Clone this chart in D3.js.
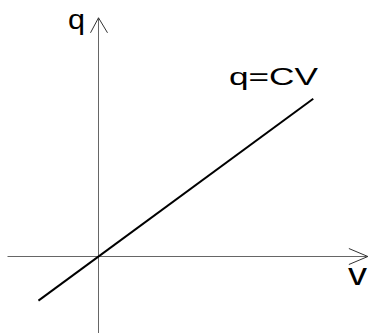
<!DOCTYPE html>
<html>
<head>
<meta charset="utf-8">
<script src="https://cdn.jsdelivr.net/npm/d3@7"></script>
<style>
  body { margin: 0; background: #fff; }
  text { font-family: "Liberation Sans", Arial, sans-serif; fill: #000; }
</style>
</head>
<body>
<div id="chart"></div>
<script>
// axis extents (data units)
var vAxis = [-1, 2.96]
var qAxis = [-1, 3.1]
// the line q = C v
var C = 0.868
var vLine = [-0.66, 2.36]
var labels = ["q", "q=CV", "v"]

var width = 371, height = 333

var svg = d3.select("#chart").append("svg")
  .attr("width", width)
  .attr("height", height)

var x = d3.scaleLinear().domain([-1, 3]).range([7.5, 371.5])
var y = d3.scaleLinear().domain([-1, 3]).range([333.5, 25.5])

// axes
svg.append("line")
  .attr("x1", x(vAxis[0])).attr("x2", x(vAxis[1]))
  .attr("y1", y(0)).attr("y2", y(0))
  .attr("stroke", "#666").attr("stroke-width", 1)

svg.append("line")
  .attr("x1", x(0)).attr("x2", x(0))
  .attr("y1", y(qAxis[0])).attr("y2", y(qAxis[1]))
  .attr("stroke", "#666").attr("stroke-width", 1)

// open arrow heads
var tipX = [x(vAxis[1]), y(0)]
svg.append("path")
  .attr("d", "M" + (tipX[0] - 19) + "," + (tipX[1] - 8) + "L" + tipX[0] + "," + tipX[1] + "L" + (tipX[0] - 19) + "," + (tipX[1] + 8))
  .attr("fill", "none").attr("stroke", "#333").attr("stroke-width", 1)

var tipY = [x(0), y(qAxis[1])]
svg.append("path")
  .attr("d", "M" + (tipY[0] - 8) + "," + (tipY[1] + 15) + "L" + tipY[0] + "," + tipY[1] + "L" + (tipY[0] + 9) + "," + (tipY[1] + 15))
  .attr("fill", "none").attr("stroke", "#333").attr("stroke-width", 1)

// q = C v
var line = d3.line()
  .x(function (d) { return x(d) })
  .y(function (d) { return y(C * d) })

svg.append("path")
  .datum(vLine)
  .attr("d", line)
  .attr("fill", "none")
  .attr("stroke", "#000")
  .attr("stroke-width", 2)

// labels
svg.append("text")
  .attr("x", 68).attr("y", 29)
  .attr("font-size", 28)
  .attr("textLength", 17).attr("lengthAdjust", "spacingAndGlyphs")
  .text(labels[0])

svg.append("text")
  .attr("x", 229).attr("y", 85)
  .attr("font-size", 24)
  .attr("textLength", 89).attr("lengthAdjust", "spacingAndGlyphs")
  .text(labels[1])

svg.append("text")
  .attr("x", 348).attr("y", 285)
  .attr("font-size", 31)
  .attr("textLength", 19).attr("lengthAdjust", "spacingAndGlyphs")
  .text(labels[2])
</script>
</body>
</html>
